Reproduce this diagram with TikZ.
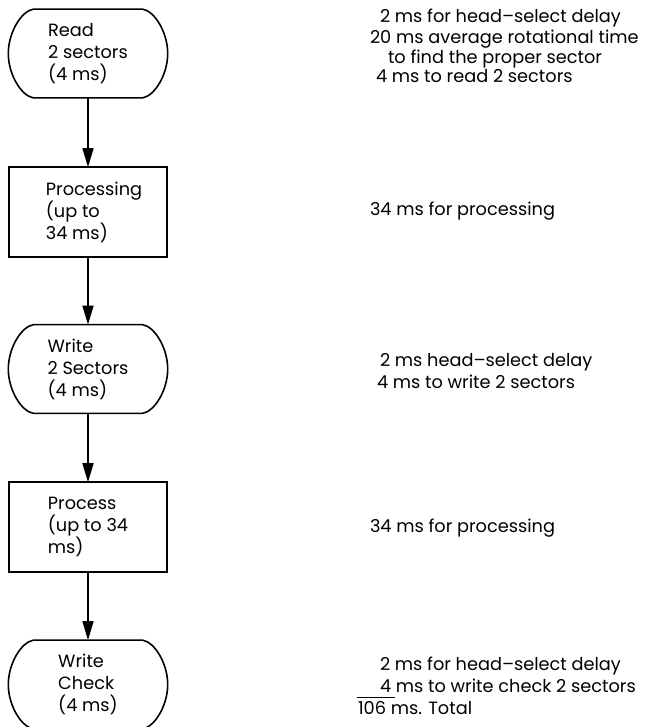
\documentclass[tikz,border=0pt]{standalone}
\usepackage{fontspec}
\setmainfont{Poppins}
\usetikzlibrary{arrows.meta,calc}
\newcommand\indnt{\hspace*{12bp}}
\tikzset{
  every node/.style={font=\fontsize{17.8}{22}\selectfont, inner sep=0pt, outer sep=0pt},
  termbox/.style={draw=none, rectangle, minimum width=160, minimum height=89, align=left},
  procbox/.style={draw, line width=1.6bp, rectangle, minimum width=158, minimum height=90, align=left},
  flow/.style={line width=1.6bp, -{Triangle[length=19bp,width=11bp]}},
  outline/.style={line width=1.6bp},
  note/.style={anchor=base west},
  sumrule/.style={line width=0.9bp}
}
\newcommand\termoutline[1]{%
  \draw[outline] ($(#1.north west)+(25,0)$) -- ($(#1.north east)+(-25,0)$)
    .. controls ($(#1.north east)+(-13,2)$) and ($(#1.east)+(0,-21)$) .. (#1.east)
    .. controls ($(#1.east)+(0,21)$) and ($(#1.south east)+(-13,-2)$) .. ($(#1.south east)+(-25,0)$)
    -- ($(#1.south west)+(25,0)$)
    .. controls ($(#1.south west)+(13,-2)$) and ($(#1.west)+(0,21)$) .. (#1.west)
    .. controls ($(#1.west)+(0,-21)$) and ($(#1.north west)+(13,2)$) .. cycle;}
\begin{document}
\begin{tikzpicture}[x=1bp,y=-1bp]
\useasboundingbox (0,0) rectangle (650,727);
% flow column
\node[termbox] (t1) at (88,53.5) {Read\\2 sectors\\(4 ms)};
\node[procbox] (p1) at (88,212) {\indnt Processing\\\indnt(up to\\\indnt 34 ms)};
\node[termbox] (t2) at (88,369) {Write\\2 Sectors\\(4 ms)};
\node[procbox] (p2) at (88,527) {Process\\(up to 34\\ms)};
\node[termbox] (t3) at (88,684.5) {Write\\Check\\(4 ms)};
\termoutline{t1}
\termoutline{t2}
\termoutline{t3}
\draw[flow] (t1) -- (p1);
\draw[flow] (p1) -- (t2);
\draw[flow] (t2) -- (p2);
\draw[flow] (p2) -- (t3);
% notes
\node[note] (a1) at (380,23) {2 ms for head–select delay};
\node[note] (a2) at (370,43.5) {20 ms average rotational time};
\node[note] (a3) at (388,63.5) {to find the proper sector};
\node[note] (a4) at (376,83) {4 ms to read 2 sectors};
\node[note] (b1) at (370,215) {34 ms for processing};
\node[note] (c1) at (380,366) {2 ms head–select delay};
\node[note] (c2) at (377,388) {4 ms to write 2 sectors};
\node[note] (d1) at (370,532) {34 ms for processing};
\node[note] (e1) at (380,670) {2 ms for head–select delay};
\node[note] (e2) at (380,692) {4 ms to write check 2 sectors};
\node[note] (e3) at (358,714) {106 ms. Total};
\coordinate (r1) at (357,697);
\coordinate (r2) at (395,697);
\draw[sumrule] (r1) -- (r2);
\end{tikzpicture}
\end{document}
